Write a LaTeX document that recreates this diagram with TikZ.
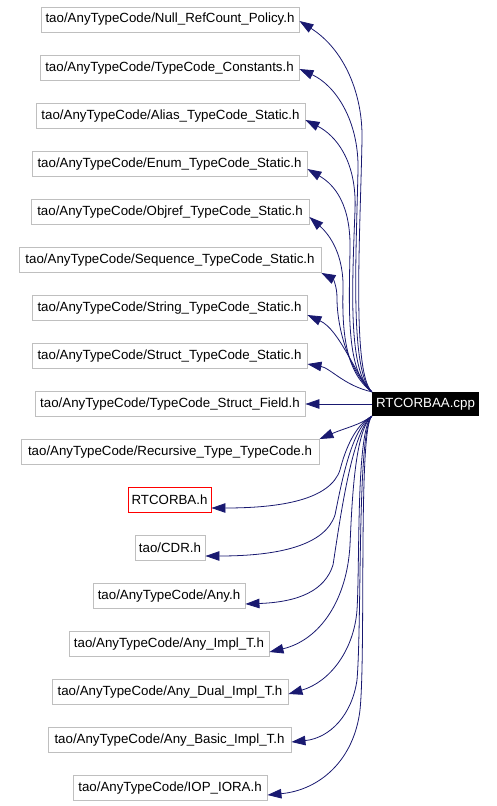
\documentclass[tikz,border=0pt]{standalone}
\usepackage{fontspec}
\setmainfont{Liberation Sans}
\usetikzlibrary{arrows.meta}
\definecolor{edgeblue}{HTML}{191970}
\definecolor{boxgray}{HTML}{BFBFBF}
\tikzset{
  filebox/.style={draw=boxgray, line width=0.9pt, fill=white, inner sep=0pt,
    minimum height=25pt, font=\fontsize{13.3}{15}\selectfont, anchor=center},
  redbox/.style={filebox, draw=red},
  srcbox/.style={fill=black, text=white, inner sep=0pt, minimum height=24pt,
    minimum width=107pt, font=\fontsize{13.3}{15}\selectfont, anchor=center},
  dep/.style={draw=edgeblue, line width=0.8pt,
    -{Triangle[length=14pt,width=9.5pt,fill=edgeblue]}}
}
\begin{document}
\begin{tikzpicture}[x=1pt,y=-1pt]
\useasboundingbox (0,0) rectangle (496,806);
\node[filebox, minimum width=258pt] (n1) at (170,19.5) {tao/AnyTypeCode/Null\_RefCount\_Policy.h};
\node[filebox, minimum width=259pt] (n2) at (169.5,68) {tao/AnyTypeCode/TypeCode\_Constants.h};
\node[filebox, minimum width=269pt] (n3) at (170.5,116) {tao/AnyTypeCode/Alias\_TypeCode\_Static.h};
\node[filebox, minimum width=275pt] (n4) at (169.5,164) {tao/AnyTypeCode/Enum\_TypeCode\_Static.h};
\node[filebox, minimum width=278pt] (n5) at (170,212) {tao/AnyTypeCode/Objref\_TypeCode\_Static.h};
\node[filebox, minimum width=302pt] (n6) at (170,260) {tao/AnyTypeCode/Sequence\_TypeCode\_Static.h};
\node[filebox, minimum width=275pt] (n7) at (169.5,308) {tao/AnyTypeCode/String\_TypeCode\_Static.h};
\node[filebox, minimum width=275pt] (n8) at (169.5,356) {tao/AnyTypeCode/Struct\_TypeCode\_Static.h};
\node[filebox, minimum width=270pt] (n9) at (170,404) {tao/AnyTypeCode/TypeCode\_Struct\_Field.h};
\node[filebox, minimum width=298pt] (n10) at (170,452) {tao/AnyTypeCode/Recursive\_Type\_TypeCode.h};
\node[redbox, minimum width=83pt] (n11) at (169.5,500) {RTCORBA.h};
\node[filebox, minimum width=70pt] (n12) at (170,548) {tao/CDR.h};
\node[filebox, minimum width=152pt] (n13) at (169,596) {tao/AnyTypeCode/Any.h};
\node[filebox, minimum width=200pt] (n14) at (169,644) {tao/AnyTypeCode/Any\_Impl\_T.h};
\node[filebox, minimum width=236pt] (n15) at (170,692) {tao/AnyTypeCode/Any\_Dual\_Impl\_T.h};
\node[filebox, minimum width=243pt] (n16) at (169.5,740) {tao/AnyTypeCode/Any\_Basic\_Impl\_T.h};
\node[filebox, minimum width=194pt] (n17) at (170,788) {tao/AnyTypeCode/IOP\_IORA.h};
\node[srcbox] (src) at (425.5,404) {RTCORBAA.cpp};

% upper edges
\draw[dep] (src.north west) .. controls (352,372) and (360,240) .. (362,140)
  .. controls (363,95) and (345,50) .. ([yshift=-1.5pt]n1.east);
\draw[dep] (src.north west) .. controls (350,372) and (356,260) .. (358,170)
  .. controls (359,120) and (335,85) .. ([yshift=-1pt]n2.east);
\draw[dep] (src.north west) .. controls (348,372) and (352,290) .. (355,210)
  .. controls (357,160) and (335,135) .. ([yshift=-4pt]n3.east);
\draw[dep] (src.north west) .. controls (346,372) and (349,310) .. (350,250)
  .. controls (351,205) and (335,185) .. ([yshift=-5pt]n4.east);
\draw[dep] (src.north west) .. controls (345,372) and (342,330) .. (343,290)
  .. controls (344,255) and (330,235) .. ([yshift=-5pt]n5.east);
\draw[dep] (src.north west) .. controls (350,372) and (337,330) .. (337,298)
  .. controls (337,286) and (333,279) .. (n6.south east);
\draw[dep] (src.north west) .. controls (355,375) and (340,330) .. ([yshift=-7pt]n7.east);
\draw[dep] (src.north west) .. controls (345,386) and (330,368) .. ([yshift=-8pt]n8.east);
\draw[dep] (src.west) -- (n9.east);
% lower edges
\draw[dep] (src.south west) .. controls (360,425) and (345,428) .. (n10.north east);
\draw[dep] (src.south west) .. controls (355,425) and (345,450) .. (340,470)
  .. controls (330,500) and (280,508) .. ([yshift=-8pt]n11.east);
\draw[dep] (src.south west) .. controls (352,428) and (342,480) .. (335,515)
  .. controls (325,545) and (280,556) .. ([yshift=-8pt]n12.east);
\draw[dep] (src.south west) .. controls (352,430) and (340,520) .. (333,565)
  .. controls (325,590) and (300,602) .. ([yshift=-8pt]n13.east);
\draw[dep] (src.south west) .. controls (355,430) and (352,500) .. (350,545)
  .. controls (347,600) and (320,640) .. ([yshift=-8pt]n14.east);
\draw[dep] (src.south west) .. controls (356,430) and (360,560) .. (357,610)
  .. controls (354,650) and (330,682) .. ([yshift=-2pt]n15.east);
\draw[dep] (src.south west) .. controls (357,430) and (362,620) .. (357,680)
  .. controls (352,715) and (330,738) .. ([yshift=-2pt]n16.east);
\draw[dep] (src.south west) .. controls (358,430) and (366,650) .. (360,710)
  .. controls (354,760) and (320,790) .. ([yshift=-7pt]n17.east);
\end{tikzpicture}
\end{document}
